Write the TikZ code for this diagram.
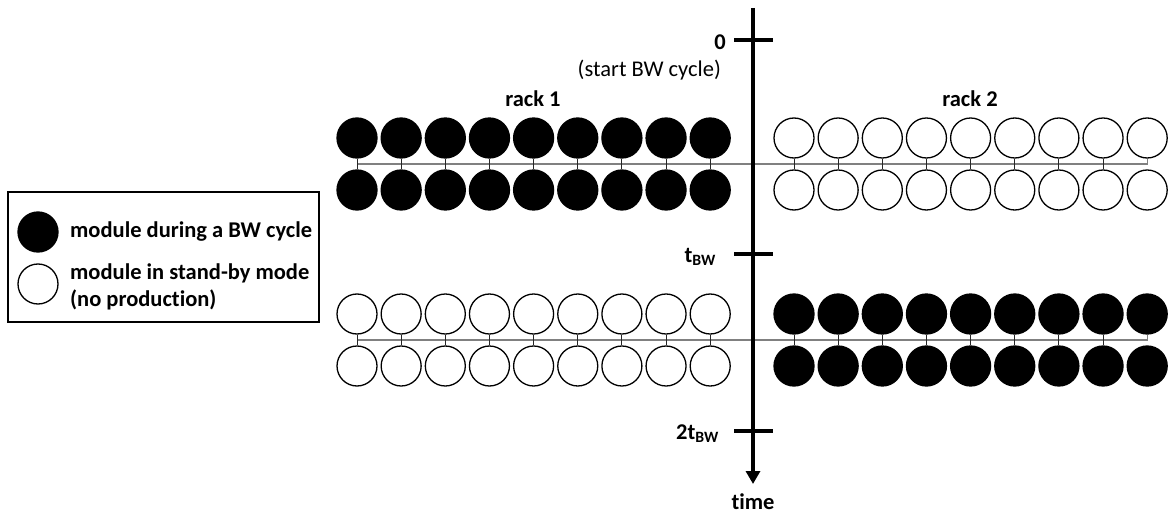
\documentclass[tikz,border=0pt]{standalone}
\usepackage{fontspec}
\setmainfont{Carlito}[Ligatures=NoCommon]
\usepackage{tikz}
\usetikzlibrary{arrows.meta}
\definecolor{ink}{HTML}{000000}
\definecolor{wire}{HTML}{808080}
\tikzset{
  busy/.style={circle, draw=ink, fill=ink, line width=1.3pt, minimum size=40pt, inner sep=0pt},
  idle/.style={circle, draw=ink, fill=white, line width=1.3pt, minimum size=40pt, inner sep=0pt},
  stub/.style={draw=ink!85, line width=1pt},
  bus/.style={draw=wire, line width=1.2pt},
  axis/.style={draw=ink, line width=4pt},
  tick/.style={draw=ink, line width=4pt},
  lbl/.style={text=ink, font=\fontsize{22.5}{27}\selectfont\bfseries, inner sep=0pt},
  note/.style={text=ink, font=\fontsize{22.5}{27}\selectfont, inner sep=0pt}
}

\begin{document}
\begin{tikzpicture}[x=1pt, y=-1pt]
  \useasboundingbox (0,0) rectangle (1169,513);

  % legend
  \draw[line width=1.3pt] (8,192) rectangle (319,322);
  \node[busy] (kbusy) at (38,232) {};
  \node[idle] (kidle) at (38,284) {};
  \node[lbl, anchor=west] (tbusy) at (70,232) {module during a BW cycle};
  \node[lbl, anchor=west, align=left] (tidle) at (70,287) {module in stand-by mode\\(no production)};

  % modules, first period (rack 1 running)
  \foreach \i in {0,...,8} {
    \node[busy] (ua\i) at ({357+44.15*\i},138) {};
    \node[busy] (ub\i) at ({357+44.15*\i},190) {};
    \node[idle] (uc\i) at ({794+44.15*\i},138) {};
    \node[idle] (ud\i) at ({794+44.15*\i},190) {};
  }
  % modules, second period (rack 2 running)
  \foreach \i in {0,...,8} {
    \node[idle] (la\i) at ({357+44.15*\i},314) {};
    \node[idle] (lb\i) at ({357+44.15*\i},366) {};
    \node[busy] (lc\i) at ({794+44.15*\i},314) {};
    \node[busy] (ld\i) at ({794+44.15*\i},366) {};
  }

  % wiring
  \coordinate (ubus) at (0,164);
  \coordinate (lbus) at (0,340);
  \draw[bus] (ua0.south |- ubus) -- (uc8.south |- ubus) -- (uc8.south);
  \draw[bus] (la0.south |- lbus) -- (lc8.south |- lbus) -- (lc8.south);
  \foreach \i in {0,...,8} {
    \draw[stub] (ua\i.south) -- (ub\i.north);
    \draw[stub] (la\i.south) -- (lb\i.north);
  }
  \foreach \i in {0,...,7} {
    \draw[stub] (uc\i.south) -- (ud\i.north);
    \draw[stub] (lc\i.south) -- (ld\i.north);
  }

  % time axis
  \coordinate (axtop) at (753,8);
  \coordinate (axend) at (753,484);
  \draw[axis, -{Triangle[width=14pt, length=13pt]}] (axtop) -- (axend);
  \draw[tick] (734,40) -- (773,40);
  \draw[tick] (734,254) -- (773,254);
  \draw[tick] (734,431) -- (773,431);

  \node[lbl, anchor=east] (t0) at (726,42) {0};
  \node[note, anchor=east] (start) at (721,70) {(start BW cycle)};
  \node[lbl, anchor=east] (t1) at (716,257) {t\textsubscript{BW}};
  \node[lbl, anchor=east] (t2) at (719,434) {2t\textsubscript{BW}};
  \node[lbl, anchor=base] (time) at (753,509) {time};
  \node[lbl] (rack1) at (533,99) {rack 1};
  \node[lbl] (rack2) at (970,99) {rack 2};
\end{tikzpicture}
\end{document}
